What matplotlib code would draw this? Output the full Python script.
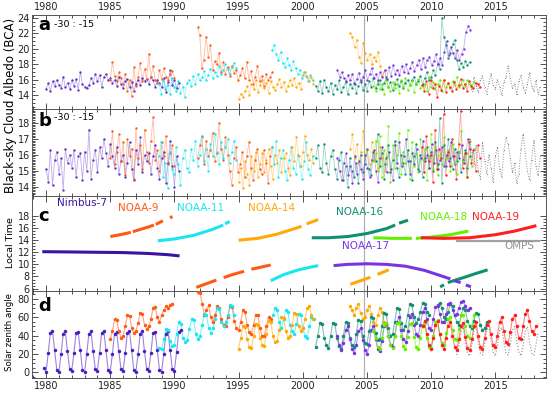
import numpy as np
import matplotlib
matplotlib.use('Agg')
import matplotlib.pyplot as plt
from matplotlib.ticker import MultipleLocator, FixedLocator

nan = np.nan

# colours per instrument
c_nim = '#5b2fc9'
c_n9 = '#ff5a14'
c_n11 = '#19e6f0'
c_n14 = '#ffa80a'
c_n16 = '#0f9070'
c_n17 = '#7a34e0'
c_n18 = '#66f000'
c_n19 = '#ff1e1e'
c_omps = '#8c8c8c'

# ---- panel a : BCA (bimonthly samples, start year + values) ----
nim_a = [14.8, 15.6, 14.5, 15.8, 15.2, 16.0, 15.3, 14.9, 16.4, 15.0, 15.6, 14.8,
         15.9, 15.2, 16.1, 14.7, 17.0, 15.4, 15.0, 14.9, 15.3, 16.2, 15.6, 16.7,
         15.8, 16.6, 15.1, 16.3, 16.8, 15.9, 16.2, 15.6, 16.0, 15.2, 16.4, 15.5,
         14.9, 15.8, 16.1, 15.0, 15.7, 14.6, 15.4, 16.0, 15.3, 16.2, 15.8, 16.1,
         15.5, 16.3, 15.9, 15.1, 16.0, 15.6, 15.0, 16.2, 14.4, 15.7, 17.2, 15.3,
         16.0, 14.9, 15.6]
n9_a1 = [16.0, 18.3, 16.5, 15.8, 17.0, 16.2, 15.4, 16.8, 14.5, 15.9, 13.9, 17.6,
         15.2, 16.4, 18.2, 15.8, 17.4, 16.1, 19.4, 16.3, 17.8, 16.0, 15.6, 17.2,
         16.1, 17.5, 16.4, 15.9, 16.8, 17.1, 16.2]
n9_a2 = [22.8, 21.8, 17.5, 18.6, 21.6, 19.0, 20.5, 17.2, 18.4, 18.0, 19.5, 17.0,
         18.3, 16.8, 17.6, 16.5, 17.8, 16.9, 17.3, 15.9, 16.6, 17.5, 16.2, 18.3,
         16.0, 17.1, 15.5, 16.4, 17.8, 15.8, 16.5, 15.2, 16.8, 15.9, 16.3, 17.0]
n11_a1 = [15.5, 14.2, 16.0, 14.8, 15.3, 14.1, 16.2, 15.0, 14.6, 15.8, 14.3, 15.1,
          13.8, 15.6, 16.0, 15.2, 16.5, 15.4, 16.8, 15.9, 16.3, 17.1, 16.0, 16.6,
          17.4, 16.2, 17.0, 16.5, 17.8, 16.7, 17.2, 18.0, 17.4, 16.8, 17.6, 18.2, 17.5]
n11_a2 = [19.8, 20.5, 19.3, 18.5, 19.6, 18.2, 17.6, 18.8, 17.9, 17.2, 18.4, 17.5,
          16.8, 17.3, 16.2, 17.0, 16.5, 15.8, 16.6, 15.9]
n14_a1 = [13.5, 14.2, 13.8, 14.6, 15.2, 14.0, 15.5, 14.8, 15.9, 14.4, 15.3, 16.0,
          14.9, 15.6, 14.3, 15.8, 15.1, 14.7, 15.4, 16.1, 15.0, 15.7, 14.5, 15.2,
          15.9, 15.3, 16.2, 15.0, 15.6, 14.8, 16.6, 17.0, 16.4, 15.8, 16.3, 15.5]
n14_a2 = [22.0, 21.5, 20.2, 21.2, 19.0, 18.2, 20.8, 19.5, 18.6, 19.3, 18.0, 19.0,
          18.4, 19.6, 17.8, 16.5, 17.2, 16.0]
n16_a = [15.2, 14.6, 15.8, 14.3, 16.0, 15.1, 14.5, 15.6, 14.2, 15.3, 14.8, 15.9,
         14.4, 15.0, 15.7, 14.1, 15.5, 14.9, 15.6, 14.3, 15.2, 16.0, 14.7, 15.4,
         14.6, 15.8, 15.1, 16.2, 14.9, 15.5, 15.9, 14.8, 15.6, 16.3, 15.0, 15.7,
         14.7, 15.4, 16.1, 15.2, 15.8, 14.9, 15.6, 16.0, 15.3, 15.9, 16.4, 15.5,
         15.8, 16.5, 15.4, 16.2, 17.0, 15.9, 16.3, 17.2, 16.6, 18.0, 17.4, 24.0,
         21.5, 20.5, 18.8, 19.5, 20.6, 21.2, 18.5, 17.4, 18.2, 17.6, 18.4, 17.9, 18.3]
n17_a = [17.2, 16.4, 17.0, 16.2, 15.8, 16.6, 15.9, 16.8, 15.5, 16.1, 16.9, 15.7,
         16.4, 17.3, 16.0, 16.7, 17.5, 16.2, 16.8, 15.9, 17.0, 16.4, 17.2, 16.1,
         17.6, 16.5, 17.9, 16.8, 17.3, 16.6, 17.8, 17.0, 18.0, 16.9, 17.5, 18.3,
         17.1, 17.9, 18.6, 17.4, 18.8, 17.7, 18.5, 19.0, 17.9, 18.4, 19.3, 18.0,
         18.8, 17.9, 19.6, 21.0, 19.2, 20.3, 19.5, 18.8, 19.9, 18.6, 19.4, 20.0,
         22.2, 23.0, 22.5]
n18_a = [15.2, 14.5, 15.8, 14.8, 15.5, 14.2, 16.0, 15.1, 14.6, 15.7, 14.9, 15.4,
         14.3, 15.9, 15.0, 16.2, 14.7, 15.3, 15.8, 14.4, 15.6, 16.1, 14.9, 15.2,
         15.5, 14.6, 16.3, 15.0, 15.7, 14.8, 15.4, 16.0, 14.5, 15.9, 15.1, 15.6,
         14.9, 15.8, 15.3, 16.4, 15.0, 15.5, 15.9, 15.2, 16.0, 15.4, 15.1, 15.7]
n19_a = [15.3, 14.6, 15.8, 14.2, 16.0, 14.9, 15.5, 13.8, 15.2, 14.7, 15.9, 14.4,
         15.6, 15.0, 14.5, 15.7, 14.8, 15.3, 16.1, 14.9, 15.5, 14.6, 15.8, 15.2,
         14.9, 15.6, 15.4, 15.0]
omps_a = [15.8, 14.6, 16.3, 15.2, 14.4, 15.9, 16.5, 15.0, 14.2, 15.6, 16.8, 15.3,
          14.8, 16.0, 15.1, 14.0, 15.7, 16.4, 17.8, 16.2, 14.9, 15.5, 14.1, 15.8,
          16.6, 15.0, 14.3, 15.4, 16.9, 15.2, 14.5, 15.9, 14.2, 15.1]

# ---- panel b : adjusted BCA ----
nim_b = [15.1, 14.3, 16.3, 14.1, 15.7, 16.2, 14.8, 15.8, 13.8, 16.4, 15.5, 16.0,
         15.2, 16.3, 14.6, 15.9, 16.1, 14.4, 16.2, 15.0, 17.6, 14.5, 15.7, 16.3,
         14.9, 16.5, 15.8, 17.0, 16.1, 15.3, 16.7, 15.9, 15.2, 16.5, 14.8, 15.6,
         16.0, 14.6, 15.5, 16.8, 15.1, 14.4, 16.3, 15.4, 17.1, 14.9, 16.0, 15.6,
         16.1, 14.8, 15.9, 16.6, 15.2, 14.5, 15.8, 16.2, 14.2, 15.5, 16.9, 15.3,
         14.0, 15.9, 15.0]
n9_b1 = [15.8, 17.5, 15.4, 16.2, 17.3, 15.6, 16.8, 14.7, 17.0, 15.9, 16.4, 14.5,
         17.7, 15.8, 16.6, 15.1, 17.6, 16.2, 15.5, 16.9, 18.4, 15.7, 16.3, 15.0,
         16.8, 15.9, 17.2, 15.4, 16.1, 16.6, 15.3]
n9_b2 = [15.8, 16.6, 17.2, 15.4, 16.9, 15.9, 16.3, 17.4, 15.6, 16.1, 18.0, 16.4,
         15.7, 17.1, 16.0, 15.0, 14.1, 15.8, 16.5, 14.9, 15.4, 16.2, 14.6, 15.9,
         16.8, 15.2, 14.4, 15.7, 16.4, 15.1, 14.8, 16.3, 15.5, 14.2, 15.9, 16.5]
n11_b1 = [15.9, 16.8, 14.6, 15.5, 13.9, 16.2, 15.1, 14.8, 16.5, 15.4, 14.1, 15.8,
          16.3, 15.2, 14.9, 16.4, 15.7, 16.9, 15.3, 16.0, 17.1, 15.6, 16.4, 15.0,
          16.7, 15.9, 17.3, 16.2, 15.4, 16.8, 15.8, 16.5, 17.0, 15.5, 16.2, 16.9, 15.7]
n11_b2 = [16.5, 15.4, 16.9, 14.6, 15.8, 16.3, 15.0, 14.4, 15.7, 16.5, 15.2, 14.8,
          16.0, 15.3, 14.5, 15.6, 16.8, 15.1, 14.7, 15.9]
n14_b1 = [14.3, 15.2, 13.9, 15.6, 14.8, 14.1, 15.9, 15.0, 16.2, 14.6, 15.4, 16.1,
          14.9, 15.7, 16.4, 15.3, 14.5, 16.0, 15.5, 16.3, 14.9, 15.8, 16.1, 15.2,
          14.7, 16.5, 15.6, 17.1, 15.9, 15.3, 16.2, 17.2, 16.0, 15.7, 16.4, 15.5]
n14_b2 = [16.4, 17.3, 15.8, 16.7, 15.5, 16.2, 17.5, 15.9, 16.3, 15.4, 16.8, 15.7,
          16.1, 15.2, 16.5, 15.8, 15.0, 15.9]
n16_b = [15.8, 16.6, 15.2, 14.9, 16.7, 15.5, 14.8, 15.9, 16.3, 15.1, 14.5, 15.7,
         16.2, 14.4, 15.3, 14.0, 15.8, 15.0, 14.6, 15.5, 14.2, 16.0, 14.9, 15.4,
         16.4, 15.1, 14.7, 16.2, 15.6, 17.3, 15.3, 16.1, 14.5, 15.8, 16.6, 14.9,
         15.7, 16.9, 15.2, 14.6, 16.0, 15.5, 14.8, 16.3, 15.6, 14.4, 15.9, 16.7,
         15.1, 16.0, 14.6, 15.8, 16.5, 15.2, 16.2, 15.0, 16.8, 15.4, 18.3, 14.2,
         16.6, 15.3, 17.0, 15.8, 15.1, 16.4, 15.6, 16.2, 14.9, 15.7, 16.3, 15.2, 15.9]
n17_b = [15.8, 15.0, 14.4, 15.5, 16.1, 14.7, 15.3, 14.2, 15.9, 14.8, 15.6, 15.1,
         14.5, 16.0, 15.2, 14.6, 15.7, 16.3, 15.0, 14.3, 15.8, 16.5, 15.4, 14.9,
         16.2, 15.1, 14.4, 16.6, 15.5, 16.8, 15.3, 15.9, 17.0, 15.6, 14.8, 16.1,
         15.4, 16.4, 15.0, 15.8, 16.9, 15.6, 16.0, 15.2, 16.7, 15.5, 16.3, 15.1,
         15.7, 16.5, 15.3, 16.0, 15.6, 16.8, 15.9, 15.4, 16.2, 15.8, 16.6, 15.5,
         16.1, 17.0, 16.4]
n18_b = [15.6, 16.9, 15.0, 17.2, 14.6, 16.3, 15.4, 17.8, 14.3, 16.6, 15.2, 16.0,
         17.4, 14.8, 16.2, 15.5, 17.6, 14.5, 16.8, 15.3, 16.1, 14.9, 17.0, 15.7,
         16.4, 14.4, 15.9, 17.3, 15.1, 16.5, 14.7, 16.0, 15.4, 17.1, 15.8, 16.3,
         15.0, 16.7, 15.5, 14.8, 16.2, 17.5, 15.6, 16.0, 14.6, 16.9, 15.3, 16.4]
n19_b = [16.5, 14.9, 17.2, 15.6, 16.0, 14.3, 17.6, 15.1, 16.4, 15.8, 18.6, 14.7,
         16.2, 15.3, 17.0, 15.9, 14.5, 16.7, 18.8, 15.2, 16.1, 14.6, 16.8, 15.5,
         16.3, 15.0, 16.6, 15.8]
omps_b = [17.0, 16.2, 15.4, 16.6, 15.0, 14.5, 16.8, 15.6, 14.8, 16.0, 15.2, 14.3,
          15.9, 16.5, 15.1, 14.6, 16.3, 17.1, 16.7, 15.8, 14.9, 15.5, 14.2, 14.8,
          16.4, 17.3, 16.1, 15.0, 14.4, 15.7, 16.9, 15.3, 14.7, 15.9]

# ---- panel c : local time (year, hour) ----
nim_c_t = [1979.7, 1982.0, 1984.0, 1986.0, 1988.0, 1989.5, 1990.4]
nim_c_lt = [12.1, 12.05, 12.0, 11.95, 11.8, 11.6, 11.4]
n9_c1_t = [1985.0, 1986.0, 1986.6, nan, 1986.75, 1988.0, 1988.4, nan, 1988.55, 1989.1, nan, 1989.65, 1989.85]
n9_c1_lt = [14.6, 15.0, 15.3, nan, 15.4, 16.2, 16.5, nan, 16.6, 17.2, nan, 17.7, 17.9]
n11_c1_t = [1988.7, 1990.0, 1991.5, 1993.0, 1993.8, nan, 1993.95, 1994.3]
n11_c1_lt = [13.9, 14.2, 14.8, 15.8, 16.5, nan, 16.7, 17.1]
n14_c1_t = [1995.0, 1996.5, 1998.0, 1999.5, 1999.9, nan, 2000.3, 2001.2]
n14_c1_lt = [14.0, 14.3, 15.0, 16.0, 16.3, nan, 16.7, 17.4]
n9_c2_t = [1991.7, 1993.0, 1994.5, 1996.0, 1997.5]
n9_c2_lt = [6.2, 7.2, 8.3, 9.2, 9.9]
n11_c2_t = [1997.5, 1998.5, 1999.5, 2000.5, 2001.2]
n11_c2_lt = [7.3, 8.3, 9.0, 9.5, 9.8]
n14_c2_t = [2003.7, 2004.5, 2005.3, 2006.0, 2006.7]
n14_c2_lt = [6.7, 7.3, 7.9, 8.5, 9.1]
n16_c1_t = [2000.7, 2002.0, 2003.5, 2005.0, 2006.5, 2007.2, nan, 2007.5, 2008.2]
n16_c1_lt = [14.4, 14.4, 14.6, 15.1, 15.9, 16.5, nan, 16.8, 17.3]
n16_c2_t = [2010.7, 2011.0, nan, 2011.3, 2012.5, 2013.5, 2014.4]
n16_c2_lt = [6.3, 6.6, nan, 7.0, 7.8, 8.5, 9.1]
n17_c_t = [2002.4, 2003.5, 2005.0, 2006.5, 2008.0, 2009.5, 2010.5, 2011.5, nan, 2011.8, 2012.3, nan, 2012.7, 2013.1]
n17_c_lt = [9.8, 10.0, 10.1, 10.0, 9.7, 9.0, 8.3, 7.6, nan, 7.3, 7.0, nan, 6.6, 6.3]
n18_c_t = [2005.5, 2007.0, 2008.5, nan, 2008.8, 2010.0, 2011.5, 2012.9]
n18_c_lt = [14.4, 14.3, 14.3, nan, 14.3, 14.5, 14.9, 15.5]
n19_c_t = [2009.2, 2011.0, 2013.0, 2015.0, 2016.5, 2018.2]
n19_c_lt = [14.4, 14.3, 14.4, 14.9, 15.5, 16.4]
omps_c_t = [2012.0, 2018.4]
omps_c_lt = [13.9, 13.9]

# ---- panel d : solar zenith angle (bimonthly) ----
nim_d = [5, 1, 21, 43, 45, 24, 3, 1, 20, 42, 45, 23, 4, 2, 21, 43, 44, 24, 3,
         1, 20, 42, 45, 23, 4, 2, 21, 43, 45, 24, 3, 1, 20, 42, 44, 23, 4,
         2, 21, 43, 45, 24, 3, 1, 20, 42, 45, 23, 4, 2, 21, 43, 44, 24, 3,
         1, 20, 42, 45, 24, 4, 2, 22, 44, 46]
n9_d1 = [36, 45, 58, 57, 45, 38, 40, 50, 62, 61, 48, 43, 45, 54, 65, 64, 52, 47,
         50, 58, 70, 71, 60, 55, 62, 68, 72, 70, 73, 75]
n9_d2 = [88, 86, 75, 62, 68, 73, 60, 55, 62, 72, 70, 58, 52, 50, 60, 72, 71, 56, 48,
         46, 55, 68, 66, 52, 44, 42, 52, 63, 62, 48, 40, 40, 50, 60, 58]
n11_d1 = [27, 25, 36, 47, 46, 34, 29, 30, 42, 55, 53, 38, 33, 35, 47, 58, 57, 42, 36,
          40, 52, 64, 63, 48, 43, 48, 58, 70, 69, 55, 50, 55, 63, 73, 72, 62]
n11_d2 = [62, 70, 68, 55, 48, 58, 68, 66, 52, 45, 42, 53, 64, 62, 48, 40, 37, 50, 60, 58]
n14_d1 = [26, 38, 50, 49, 36, 28, 27, 40, 53, 52, 38, 30, 29, 42, 56, 55, 40, 33,
          34, 46, 60, 59, 45, 38, 40, 52, 65, 64, 51, 45, 48, 58, 70, 72, 62, 58]
n14_d2 = [72, 68, 62, 70, 74, 65, 58, 60, 68, 72, 64, 55, 52, 62, 70, 66, 55, 50]
n16_d1 = [28, 40, 54, 53, 38, 30, 27, 40, 54, 53, 37, 29, 26, 40, 55, 54, 38, 30,
          28, 42, 57, 56, 40, 32, 31, 45, 60, 59, 43, 35, 36, 50, 65, 64, 48, 40,
          42, 55, 70, 69, 54, 46, 50, 62, 74, 73, 60, 54, 58, 66, 76, 75, 66, 62]
n16_d2 = [72, 76, 70, 60, 58, 66, 74, 72, 62, 55, 52, 62, 70, 68, 56, 50, 48, 56,
          65, 64, 52, 46, 48, 55]
n17_d = [40, 30, 24, 32, 46, 50, 36, 26, 21, 30, 45, 48, 35, 24, 20, 30, 46, 50, 36, 26,
         23, 34, 50, 53, 40, 30, 28, 40, 55, 60, 46, 36, 33, 45, 60, 64, 52, 42,
         40, 52, 66, 70, 58, 48, 46, 58, 71, 73, 64, 55, 55, 64, 75, 76, 68, 62,
         64, 70, 77, 78, 72, 68, 70]
n18_d = [45, 38, 28, 26, 38, 52, 54, 40, 30, 27, 40, 54, 55, 40, 29, 26, 39, 53, 54, 39, 28,
         25, 38, 52, 54, 38, 28, 27, 40, 55, 57, 42, 32, 30, 43, 58, 60, 46, 36,
         35, 47, 62, 63, 50, 40, 38, 50, 63]
n19_d = [50, 56, 42, 30, 26, 38, 52, 56, 42, 30, 25, 37, 51, 55, 40, 28, 24, 36, 50, 54, 39, 27,
         24, 36, 50, 55, 40, 28, 25, 38, 52, 56, 42, 30, 28, 40, 55, 60, 45, 33,
         31, 44, 58, 63, 50, 38, 36, 50, 64, 68, 56, 45, 42, 50]
omps_d = [19, 30, 45, 49, 33, 21, 18, 30, 45, 50, 34, 21, 19, 31, 46, 50, 34, 22,
          18, 30, 45, 49, 33, 21, 19, 31, 46, 50, 34, 22, 18, 30, 45, 50, 34, 21,
          19, 30, 44]


def tgrid(start, vals):
    return start + np.arange(len(vals)) / 6.0


def dots(ax, start, vals, color, ms=1.7, lw=0.6, alpha=0.4):
    t = tgrid(start, vals)
    ax.plot(t, vals, '-', color=color, lw=lw, alpha=alpha, zorder=2)
    ax.plot(t, vals, 'o', color=color, ms=ms, mec='none', zorder=3)


def dotted(ax, start, vals):
    t = tgrid(start, vals)
    ax.plot(t, vals, ':', color=c_omps, lw=0.7, zorder=2)
    ax.plot(t, vals, 'o', color=c_omps, ms=0.8, mec='none', zorder=2)


fig = plt.figure(figsize=(5.5, 3.95), dpi=100)
L, R = 32 / 550, 546 / 550
px = lambda y: 1 - y / 395
edges = [15, 109, 196, 291, 378]
axs = []
for i in range(4):
    ax = fig.add_axes([L, px(edges[i + 1]), R - L, px(edges[i]) - px(edges[i + 1])])
    axs.append(ax)
ax_a, ax_b, ax_c, ax_d = axs

# panel a
dots(ax_a, 1980.0, nim_a, c_nim)
dots(ax_a, 1985.0, n9_a1, c_n9)
dots(ax_a, 1991.8, n9_a2, c_n9)
dots(ax_a, 1988.8, n11_a1, c_n11)
dots(ax_a, 1997.6, n11_a2, c_n11)
dots(ax_a, 1995.0, n14_a1, c_n14)
dots(ax_a, 2003.7, n14_a2, c_n14)
dots(ax_a, 2001.0, n16_a, c_n16)
dots(ax_a, 2005.5, n18_a, c_n18)
dots(ax_a, 2002.7, n17_a, c_n17)
dots(ax_a, 2009.3, n19_a, c_n19)
dotted(ax_a, 2013.0, omps_a)
ax_a.set_ylim(12.2, 24.4)
ax_a.yaxis.set_major_locator(MultipleLocator(2))
ax_a.yaxis.set_minor_locator(MultipleLocator(0.5))

# panel b
dots(ax_b, 1980.0, nim_b, c_nim)
dots(ax_b, 1985.0, n9_b1, c_n9)
dots(ax_b, 1991.8, n9_b2, c_n9)
dots(ax_b, 1988.8, n11_b1, c_n11)
dots(ax_b, 1997.6, n11_b2, c_n11)
dots(ax_b, 1995.0, n14_b1, c_n14)
dots(ax_b, 2003.7, n14_b2, c_n14)
dots(ax_b, 2001.0, n16_b, c_n16)
dots(ax_b, 2002.7, n17_b, c_n17)
dots(ax_b, 2005.5, n18_b, c_n18)
dots(ax_b, 2009.3, n19_b, c_n19)
dotted(ax_b, 2013.0, omps_b)
ax_b.set_ylim(13.4, 18.9)
ax_b.yaxis.set_major_locator(MultipleLocator(1))
ax_b.yaxis.set_minor_locator(MultipleLocator(0.1))

# panel c
lw_c = 2.2
ax_c.plot(nim_c_t, nim_c_lt, color='#3a14a0', lw=lw_c, solid_capstyle='butt')
ax_c.plot(n9_c1_t, n9_c1_lt, color=c_n9, lw=lw_c, solid_capstyle='butt')
ax_c.plot(n9_c2_t, n9_c2_lt, color=c_n9, lw=lw_c, dashes=(7, 2.5))
ax_c.plot(n11_c1_t, n11_c1_lt, color=c_n11, lw=lw_c, solid_capstyle='butt')
ax_c.plot(n11_c2_t, n11_c2_lt, color=c_n11, lw=lw_c, solid_capstyle='butt')
ax_c.plot(n14_c1_t, n14_c1_lt, color=c_n14, lw=lw_c, solid_capstyle='butt')
ax_c.plot(n14_c2_t, n14_c2_lt, color=c_n14, lw=lw_c, dashes=(7, 2.5))
ax_c.plot(n16_c1_t, n16_c1_lt, color=c_n16, lw=lw_c, solid_capstyle='butt')
ax_c.plot(n16_c2_t, n16_c2_lt, color=c_n16, lw=lw_c, solid_capstyle='butt')
ax_c.plot(omps_c_t, omps_c_lt, color='#a0a0a0', lw=1.6)
ax_c.plot(n17_c_t, n17_c_lt, color=c_n17, lw=lw_c, solid_capstyle='butt')
ax_c.plot(n18_c_t, n18_c_lt, color=c_n18, lw=lw_c, solid_capstyle='butt')
ax_c.plot(n19_c_t, n19_c_lt, color=c_n19, lw=lw_c, solid_capstyle='butt')
ax_c.set_ylim(5.6, 21.3)
ax_c.yaxis.set_major_locator(FixedLocator([6, 8, 10, 12, 14, 16, 18]))
ax_c.yaxis.set_minor_locator(FixedLocator(np.arange(6, 18.1, 0.5)))
names = [('Nimbus-7', 1982.8, 20.1, '#3a14a0'), ('NOAA-9', 1987.2, 19.3, c_n9),
         ('NOAA-11', 1992.0, 19.3, c_n11), ('NOAA-14', 1997.6, 19.3, c_n14),
         ('NOAA-16', 2004.4, 18.7, c_n16), ('NOAA-18', 2011.0, 17.9, c_n18),
         ('NOAA-19', 2015.0, 17.9, c_n19), ('NOAA-17', 2004.9, 13.1, c_n17),
         ('OMPS', 2016.9, 13.1, '#909090')]
for nm, x, y, col in names:
    ax_c.text(x, y, nm, color=col, fontsize=7.5, ha='center', va='center')

# panel d
kw = dict(ms=2.5, lw=0.8, alpha=0.55)
dots(ax_d, 1979.83, nim_d, '#4a1fc0', **kw)
dots(ax_d, 1985.0, n9_d1, c_n9, **kw)
dots(ax_d, 1991.83, n9_d2, c_n9, **kw)
dots(ax_d, 1988.83, n11_d1, c_n11, **kw)
dots(ax_d, 1997.67, n11_d2, c_n11, **kw)
dots(ax_d, 1995.0, n14_d1, c_n14, **kw)
dots(ax_d, 2003.67, n14_d2, c_n14, **kw)
ax_d.plot(tgrid(2012.0, omps_d), omps_d, ':', color=c_omps, lw=0.8)
dots(ax_d, 2001.0, n16_d1, c_n16, **kw)
dots(ax_d, 2010.5, n16_d2, c_n16, **kw)
dots(ax_d, 2002.67, n17_d, c_n17, **kw)
dots(ax_d, 2005.5, n18_d, c_n18, **kw)
dots(ax_d, 2009.33, n19_d, c_n19, **kw)
ax_d.set_ylim(-6, 88.6)
ax_d.yaxis.set_major_locator(MultipleLocator(20))
ax_d.yaxis.set_minor_locator(MultipleLocator(5))

for i, ax in enumerate(axs):
    ax.set_xlim(1978.9, 2018.95)
    ax.axvline(2004.8, color='#b0b0b0', lw=0.9, zorder=1)
    ax.xaxis.set_major_locator(MultipleLocator(5))
    ax.xaxis.set_minor_locator(MultipleLocator(1))
    ax.tick_params(which='both', direction='in', top=True, right=True,
                   labelsize=7, colors='#333333', labelcolor='#222222', width=0.6)
    ax.tick_params(which='major', length=4)
    ax.tick_params(which='minor', length=2)
    ax.tick_params(axis='x', labelbottom=(i == 3), labeltop=(i == 0), pad=2)
    ax.tick_params(axis='y', pad=1.5)
    for s in ax.spines.values():
        s.set_linewidth(0.7)
        s.set_color('#555555')

letter_y = {'a': 0.985, 'b': 0.96, 'c': 0.88, 'd': 0.93}
for ax, lab in zip(axs, 'abcd'):
    ax.text(0.012, letter_y[lab], lab, transform=ax.transAxes, fontsize=13,
            fontweight='bold', va='top', ha='left')
for ax in (ax_a, ax_b):
    ax.text(0.042, 0.95, '-30 : -15', transform=ax.transAxes, fontsize=6.8,
            va='top', ha='left')

fig.text(0.020, px(105), 'Black-sky Cloud Albedo (BCA)', rotation=90,
         ha='center', va='center', fontsize=8.5)
fig.text(0.020, px(243), 'Local Time', rotation=90, ha='center',
         va='center', fontsize=6.8)
fig.text(0.018, px(332), 'Solar zenith angle', rotation=90, ha='center',
         va='center', fontsize=6.2)

fig.savefig('out.png', dpi=100)
